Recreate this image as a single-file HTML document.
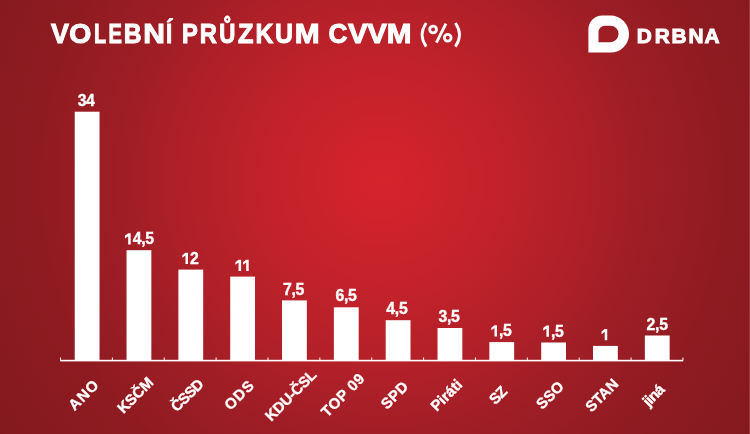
<!DOCTYPE html>
<html><head><meta charset="utf-8"><style>
html,body{margin:0;padding:0;width:750px;height:434px;overflow:hidden}
body{background:#a01d24}
#bg{position:absolute;left:0;top:0;width:750px;height:434px;
background:radial-gradient(circle 460px at 382px 180px,rgb(214,35,44) 0px,rgb(197,34,43) 100px,rgb(176,32,40) 200px,rgb(162,30,38) 250px,rgb(142,27,33) 350px,rgb(131,25,30) 460px);}
svg{position:absolute;left:0;top:0;will-change:transform}
text{font-family:"Liberation Sans",sans-serif;font-weight:bold;fill:#fff}
.t{font-size:27.6px;stroke:#fff;stroke-width:1.0px}
.v{font-size:15.8px;text-anchor:middle;letter-spacing:-0.3px;stroke:#fff;stroke-width:0.35px}
.h{fill-opacity:0;stroke-opacity:0}
.n{font-size:15px;text-anchor:middle;stroke:#fff;stroke-width:0.35px}
.logo{font-size:20.8px;text-anchor:middle;stroke:#fff;stroke-width:1px}
</style></head><body>
<div id="bg"></div>
<svg width="750" height="434" viewBox="0 0 750 434">
<text transform="translate(51.01,43) scale(0.976,1)" class="t">V</text>
<text transform="translate(69.28,43) scale(1.030,1)" class="t">O</text>
<text transform="translate(94.04,43) scale(0.724,1)" class="t">L</text>
<text transform="translate(108.43,43) scale(0.730,1)" class="t">E</text>
<text transform="translate(123.72,43) scale(0.895,1)" class="t">B</text>
<text transform="translate(143.16,43) scale(1.089,1)" class="t">N</text>
<text transform="translate(166.08,43) scale(0.812,1)" class="t">Í</text>
<text transform="translate(182.09,43) scale(0.860,1)" class="t">P</text>
<text transform="translate(199.69,43) scale(0.860,1)" class="t">R</text>
<text transform="translate(219.14,43) scale(0.809,1)" class="t">Ů</text>
<text transform="translate(237.88,43) scale(0.916,1)" class="t">Z</text>
<text transform="translate(255.42,43) scale(0.896,1)" class="t">K</text>
<text transform="translate(275.08,43) scale(0.906,1)" class="t">U</text>
<text transform="translate(294.87,43) scale(1.082,1)" class="t">M</text>
<text transform="translate(328.57,43) scale(0.948,1)" class="t">C</text>
<text transform="translate(347.99,43) scale(1.070,1)" class="t">V</text>
<text transform="translate(367.19,43) scale(1.070,1)" class="t">V</text>
<text transform="translate(386.78,43) scale(1.077,1)" class="t">M</text>
<path d="M426.2 23.0Q418.0 34.8 426.2 46.6M455.4 23.0Q463.6 34.8 455.4 46.6" fill="none" stroke="#fff" stroke-width="2.8"/>
<g fill="none" stroke="#fff"><circle cx="433.1" cy="29.5" r="3.4" stroke-width="2.8"/><circle cx="447.7" cy="37.8" r="3.4" stroke-width="2.8"/><path d="M445.9 23.6L436.4 42.6" stroke-width="2.9" stroke-linecap="butt"/></g>

<path d="M588.4 52.6 L588.4 29.5 A14 14 0 0 1 602.4 15.5 L610.5 15.5 A18.55 18.55 0 0 1 610.5 52.6 Z M598.5 42.2 L598.5 32.2 A6.5 6.5 0 0 1 605 25.7 L610.3 25.7 A8.25 8.25 0 0 1 610.3 42.2 Z" fill="#fff" fill-rule="evenodd"/>
<text x="636.7 654.7 671.5 688.6 704.5" y="43.3" class="logo" style="text-anchor:start">DRBNA</text>
<rect x="74.72" y="111.70" width="24.8" height="248.80" fill="#fff"/><rect x="126.55" y="250.20" width="24.8" height="110.30" fill="#fff"/><rect x="178.38" y="269.60" width="24.8" height="90.90" fill="#fff"/><rect x="230.21" y="276.60" width="24.8" height="83.90" fill="#fff"/><rect x="282.04" y="300.40" width="24.8" height="60.10" fill="#fff"/><rect x="333.87" y="307.30" width="24.8" height="53.20" fill="#fff"/><rect x="385.70" y="320.20" width="24.8" height="40.30" fill="#fff"/><rect x="437.53" y="328.00" width="24.8" height="32.50" fill="#fff"/><rect x="489.36" y="342.10" width="24.8" height="18.40" fill="#fff"/><rect x="541.19" y="342.50" width="24.8" height="18.00" fill="#fff"/><rect x="593.02" y="345.90" width="24.8" height="14.60" fill="#fff"/><rect x="644.85" y="335.50" width="24.8" height="25.00" fill="#fff"/>
<rect x="60.20" y="359.8" width="622.90" height="1.6" fill="#fff"/>
<rect x="60.00" y="357.5" width="1" height="3" fill="#fff"/><rect x="111.87" y="357.5" width="1" height="3" fill="#fff"/><rect x="163.74" y="357.5" width="1" height="3" fill="#fff"/><rect x="215.61" y="357.5" width="1" height="3" fill="#fff"/><rect x="267.48" y="357.5" width="1" height="3" fill="#fff"/><rect x="319.35" y="357.5" width="1" height="3" fill="#fff"/><rect x="371.22" y="357.5" width="1" height="3" fill="#fff"/><rect x="423.09" y="357.5" width="1" height="3" fill="#fff"/><rect x="474.96" y="357.5" width="1" height="3" fill="#fff"/><rect x="526.83" y="357.5" width="1" height="3" fill="#fff"/><rect x="578.70" y="357.5" width="1" height="3" fill="#fff"/><rect x="630.57" y="357.5" width="1" height="3" fill="#fff"/><rect x="682.44" y="357.5" width="1" height="3" fill="#fff"/>
<text x="86.12" y="105.80" class="v">34</text><text x="138.95" y="244.30" class="v"><tspan class="h">1</tspan>4,5</text><text x="189.98" y="263.70" class="v"><tspan class="h">1</tspan>2</text><text x="242.61" y="270.70" class="v"><tspan class="h">1</tspan><tspan class="h">1</tspan></text><text x="293.49" y="294.50" class="v">7,5</text><text x="345.97" y="301.40" class="v">6,5</text><text x="396.85" y="314.30" class="v">4,5</text><text x="449.03" y="322.10" class="v">3,5</text><text x="501.01" y="336.20" class="v"><tspan class="h">1</tspan>,5</text><text x="552.94" y="336.60" class="v"><tspan class="h">1</tspan>,5</text><text x="604.97" y="340.00" class="v"><tspan class="h">1</tspan></text><text x="657.10" y="329.60" class="v">2,5</text>
<path d="M124.98 235.75L128.18 233.25L130.69 233.25L130.69 244.48L128.18 244.48L128.18 236.15L124.98 238.45ZM182.29 255.15L185.49 252.65L188.00 252.65L188.00 263.88L185.49 263.88L185.49 255.55L182.29 257.85ZM235.35 262.15L238.55 259.65L241.07 259.65L241.07 270.88L238.55 270.88L238.55 262.55L235.35 264.85ZM242.98 262.15L246.18 259.65L248.69 259.65L248.69 270.88L246.18 270.88L246.18 262.55L242.98 264.85ZM491.28 327.65L494.48 325.15L496.99 325.15L496.99 336.38L494.48 336.38L494.48 328.05L491.28 330.35ZM543.21 328.05L546.41 325.55L548.92 325.55L548.92 336.78L546.41 336.78L546.41 328.45L543.21 330.75ZM601.53 331.45L604.73 328.95L607.24 328.95L607.24 340.18L604.73 340.18L604.73 331.85L601.53 334.15Z" fill="#fff"/>
<text transform="translate(87.12,398.80) rotate(-45)" class="n" textLength="35.4" lengthAdjust="spacing">ANO</text><text transform="translate(138.95,398.80) rotate(-45)" class="n" textLength="43.8" lengthAdjust="spacing">KSČM</text><text transform="translate(190.78,398.80) rotate(-45)" class="n" textLength="39.0" lengthAdjust="spacing">ČSSD</text><text transform="translate(242.61,398.80) rotate(-45)" class="n" textLength="34.3" lengthAdjust="spacing">ODS</text><text transform="translate(294.44,398.80) rotate(-45)" class="n" textLength="65.3" lengthAdjust="spacing">KDU-ČSL</text><text transform="translate(346.27,398.80) rotate(-45)" class="n" textLength="54.0" lengthAdjust="spacing">TOP 09</text><text transform="translate(398.10,398.80) rotate(-45)" class="n" textLength="31.6" lengthAdjust="spacing">SPD</text><text transform="translate(449.93,398.80) rotate(-45)" class="n" textLength="37.4" lengthAdjust="spacing">Piráti</text><text transform="translate(501.76,398.80) rotate(-45)" class="n" textLength="18.5" lengthAdjust="spacing">SZ</text><text transform="translate(553.59,398.80) rotate(-45)" class="n" textLength="31.9" lengthAdjust="spacing">SSO</text><text transform="translate(605.42,398.80) rotate(-45)" class="n" textLength="39.3" lengthAdjust="spacing">STAN</text><text transform="translate(657.25,398.80) rotate(-45)" class="n" textLength="24.0" lengthAdjust="spacing">jiná</text>
</svg>
<div style="position:absolute;left:749px;top:0;width:1px;height:434px;background:#95343a"></div>
</body></html>
